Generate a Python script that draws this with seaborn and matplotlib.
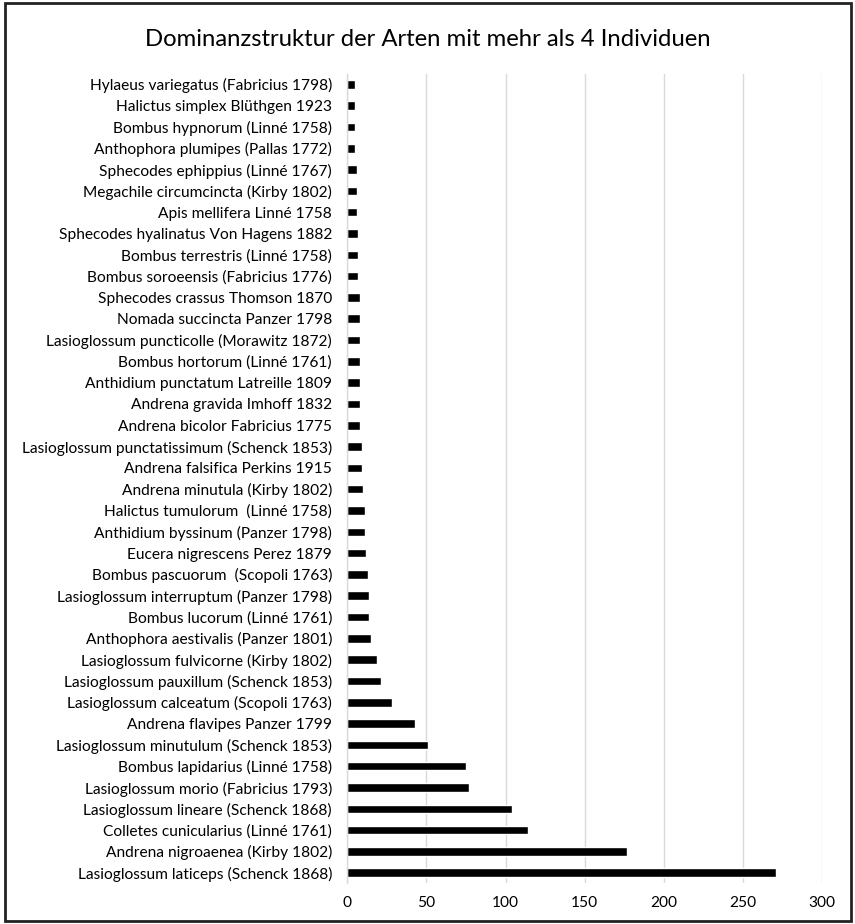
import matplotlib
matplotlib.use("Agg")
import matplotlib.pyplot as plt
import seaborn as sns
import pandas as pd
from matplotlib.patches import Rectangle

species = [
    "Hylaeus variegatus (Fabricius 1798)",
    "Halictus simplex Blüthgen 1923",
    "Bombus hypnorum (Linné 1758)",
    "Anthophora plumipes (Pallas 1772)",
    "Sphecodes ephippius (Linné 1767)",
    "Megachile circumcincta (Kirby 1802)",
    "Apis mellifera Linné 1758",
    "Sphecodes hyalinatus Von Hagens 1882",
    "Bombus terrestris (Linné 1758)",
    "Bombus soroeensis (Fabricius 1776)",
    "Sphecodes crassus Thomson 1870",
    "Nomada succincta Panzer 1798",
    "Lasioglossum puncticolle (Morawitz 1872)",
    "Bombus hortorum (Linné 1761)",
    "Anthidium punctatum Latreille 1809",
    "Andrena gravida Imhoff 1832",
    "Andrena bicolor Fabricius 1775",
    "Lasioglossum punctatissimum (Schenck 1853)",
    "Andrena falsifica Perkins 1915",
    "Andrena minutula (Kirby 1802)",
    "Halictus tumulorum  (Linné 1758)",
    "Anthidium byssinum (Panzer 1798)",
    "Eucera nigrescens Perez 1879",
    "Bombus pascuorum  (Scopoli 1763)",
    "Lasioglossum interruptum (Panzer 1798)",
    "Bombus lucorum (Linné 1761)",
    "Anthophora aestivalis (Panzer 1801)",
    "Lasioglossum fulvicorne (Kirby 1802)",
    "Lasioglossum pauxillum (Schenck 1853)",
    "Lasioglossum calceatum (Scopoli 1763)",
    "Andrena flavipes Panzer 1799",
    "Lasioglossum minutulum (Schenck 1853)",
    "Bombus lapidarius (Linné 1758)",
    "Lasioglossum morio (Fabricius 1793)",
    "Lasioglossum lineare (Schenck 1868)",
    "Colletes cunicularius (Linné 1761)",
    "Andrena nigroaenea (Kirby 1802)",
    "Lasioglossum laticeps (Schenck 1868)",
]
individuals = [5, 5, 5, 5, 6, 6, 6, 7, 7, 7,
               8, 8, 8, 8, 8, 8, 8, 9, 9, 10,
               11, 11, 12, 13, 14, 14, 15, 19, 21, 28,
               43, 51, 75, 77, 104, 114, 177, 271]
x_ticks = [0, 50, 100, 150, 200, 250, 300]
title = "Dominanzstruktur der Arten mit mehr als 4 Individuen"

df = pd.DataFrame({"Art": species, "Anzahl": individuals})

sns.set_theme(style="white")
plt.rcParams["font.family"] = ["Lato", "DejaVu Sans"]

fig = plt.figure(figsize=(8.55, 9.24), dpi=100)
ax = fig.add_axes([0.4062, 0.0440, 0.5552, 0.8762])

sns.barplot(data=df, y="Art", x="Anzahl", orient="h", color="black",
            width=0.4, ax=ax, saturation=1)

ax.set_xlim(0, 300)
ax.set_xticks(x_ticks)
ax.set_xlabel("")
ax.set_ylabel("")
ax.xaxis.grid(True, color="#d9d9d9", linewidth=1)
ax.set_axisbelow(True)
for s in ["top", "right", "bottom"]:
    ax.spines[s].set_visible(False)
ax.spines["left"].set_color("#d9d9d9")
ax.spines["left"].set_linewidth(1)
ax.tick_params(axis="y", length=0, pad=11, labelsize=11.2, labelcolor="#000000")
ax.tick_params(axis="x", length=0, pad=9, labelsize=11.2, labelcolor="#000000")

fig.text(0.5, 1 - 40 / 924, title, ha="center", va="center",
         fontsize=17.2, color="#000000")

fig.patches.append(Rectangle((5 / 855, 3 / 924), 846 / 855, 918 / 924,
                             transform=fig.transFigure, fill=False,
                             edgecolor="#222222", linewidth=2))

fig.savefig("out.png", dpi=100)
